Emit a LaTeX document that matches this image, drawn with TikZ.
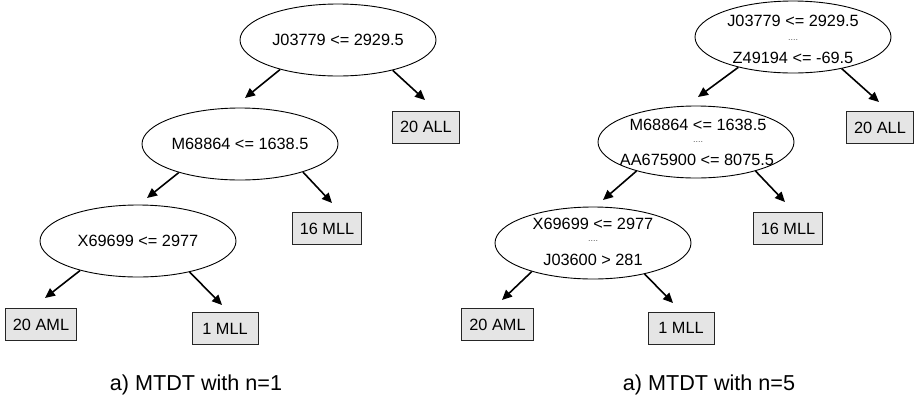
\documentclass[tikz,border=0pt]{standalone}
\usepackage{fontspec}
\setmainfont{Liberation Sans}
\usetikzlibrary{shapes.geometric,arrows.meta}
\begin{document}
\begin{tikzpicture}[x=1pt,y=-1pt,
  split/.style={draw=black, line width=0.9pt, ellipse, minimum width=196pt,
    minimum height=72pt, inner sep=0pt, font=\fontsize{16.3}{19}\selectfont},
  cond/.style={inner sep=0pt, font=\fontsize{16.3}{19}\selectfont},
  gap/.style={inner sep=0pt, font=\fontsize{9}{9}\selectfont, text=black!65},
  leaf/.style={draw=black!85, line width=1pt, fill=black!10, minimum width=66pt,
    minimum height=32pt, inner xsep=7.5pt, font=\fontsize{16.3}{19}\selectfont},
  arr/.style={line width=1.6pt, -{Triangle[length=10pt,width=9pt]}},
  caption/.style={font=\fontsize{21.6}{26}\selectfont}
]
\useasboundingbox (0,0) rectangle (921,400);

% ---- tree with n=1 ----
\node[split] (a1) at (338,40) {J03779 <= 2929.5};
\node[split] (a2) at (240,144) {M68864 <= 1638.5};
\node[split] (a3) at (138,241) {X69699 <= 2977};
\node[leaf] (a4) at (426,127) {20 ALL};
\node[leaf] (a5) at (327,228.5) {16 MLL};
\node[leaf] (a6) at (41,324.5) {20 AML};
\node[leaf] (a7) at (225,328.5) {1 MLL};

\coordinate (ta2) at (245,98);
\coordinate (ta4) at (425,100);
\coordinate (ta3) at (147,198);
\coordinate (ta5) at (332,203);
\coordinate (ta6) at (45,298);
\coordinate (ta7) at (222,305);

\draw[arr] (a1.207) -- (ta2);
\draw[arr] (a1.331) -- (ta4);
\draw[arr] (a2.205) -- (ta3);
\draw[arr] (a2.336) -- (ta5);
\draw[arr] (a3.207) -- (ta6);
\draw[arr] (a3.329) -- (ta7);

\node[caption] (capa) at (196,385) {a) MTDT with n=1};

% ---- tree with n=5 ----
\node[split] (b1) at (793,37) {};
\node[cond] (b1x) at (793,21) {J03779 <= 2929.5};
\node[gap]  (b1y) at (793,40) {....};
\node[cond] (b1z) at (793,58) {Z49194 <= -69.5};

\node[split] (b2) at (696,142) {};
\node[cond] (b2x) at (698,125) {M68864 <= 1638.5};
\node[gap]  (b2y) at (698,142) {....};
\node[cond] (b2z) at (697,160) {AA675900 <= 8075.5};

\node[split] (b3) at (593,243) {};
\node[cond] (b3x) at (593,224) {X69699 <= 2977};
\node[gap]  (b3y) at (593,241) {....};
\node[cond] (b3z) at (593,260) {J03600 > 281};

\node[leaf] (b4) at (880,127.5) {20 ALL};
\node[leaf] (b5) at (788,228.5) {16 MLL};
\node[leaf] (b6) at (497.5,324.5) {20 AML};
\node[leaf] (b7) at (681,328) {1 MLL};

\coordinate (tb2) at (698,97);
\coordinate (tb4) at (879,102);
\coordinate (tb3) at (603,200);
\coordinate (tb5) at (785,202);
\coordinate (tb6) at (502,300);
\coordinate (tb7) at (673,303);

\draw[arr] (b1.209) -- (tb2);
\draw[arr] (b1.327) -- (tb4);
\draw[arr] (b2.206) -- (tb3);
\draw[arr] (b2.334) -- (tb5);
\draw[arr] (b3.205) -- (tb6);
\draw[arr] (b3.329) -- (tb7);

\node[caption] (capb) at (709,385) {a) MTDT with n=5};
\end{tikzpicture}
\end{document}
